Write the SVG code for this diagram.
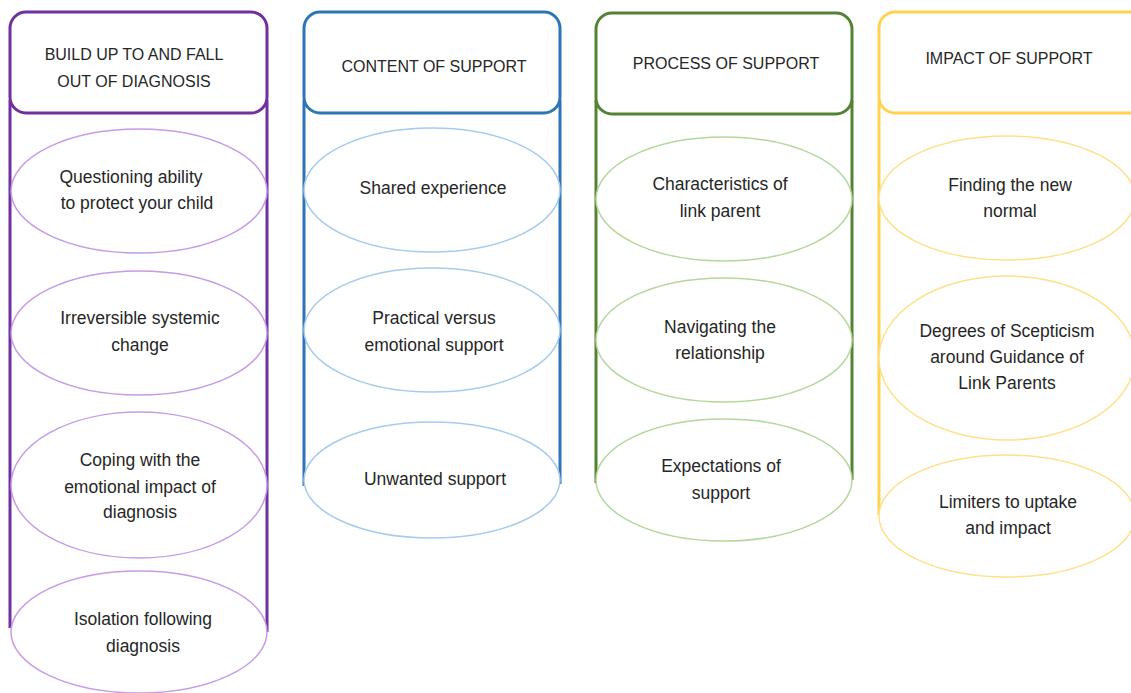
<svg xmlns="http://www.w3.org/2000/svg" width="1131" height="693" viewBox="0 0 1131 693">
<style>
.hdr{fill:#fff;stroke-width:3}
.side{stroke-width:3;fill:none}
.ell{fill:#fff;stroke-width:1.5}
text{font-family:"Liberation Sans",Arial,sans-serif;font-size:17.5px;fill:#262626;text-anchor:middle}
.h{font-size:16px}
.p{stroke:#7030A0}.pl{stroke:#C69BE8}
.b{stroke:#2E75B6}.bl{stroke:#A6CBEC}
.g{stroke:#548235}.gl{stroke:#B4D89B}
.y{stroke:#FFD34F}.yl{stroke:#FFE08A}
</style>
<rect width="1131" height="693" fill="#fff"/>
<g id="connectors">
<line class="side p" x1="10" y1="100" x2="10" y2="628"/>
<line class="side p" x1="267" y1="100" x2="267" y2="632"/>
<line class="side b" x1="304" y1="100" x2="304" y2="486"/>
<line class="side b" x1="560" y1="100" x2="560" y2="484"/>
<line class="side g" x1="596" y1="100" x2="596" y2="483"/>
<line class="side g" x1="852" y1="100" x2="852" y2="480"/>
<line class="side y" x1="879" y1="100" x2="879" y2="515"/>
</g>
<g id="h1"><rect class="hdr p" x="10" y="12" width="257" height="101" rx="16"/><text class="h" x="134" y="60">BUILD UP TO AND FALL</text><text class="h" x="134" y="87">OUT OF DIAGNOSIS</text></g>
<g id="h2"><rect class="hdr b" x="304" y="12" width="256" height="101" rx="16"/><text class="h" x="434" y="72">CONTENT OF SUPPORT</text></g>
<g id="h3"><rect class="hdr g" x="596" y="13" width="256" height="101" rx="16"/><text class="h" x="726" y="69">PROCESS OF SUPPORT</text></g>
<g id="h4"><rect class="hdr y" x="879" y="12" width="270" height="101" rx="16"/><text class="h" x="1009" y="64">IMPACT OF SUPPORT</text></g>

<g id="n1"><ellipse class="ell pl" cx="139" cy="191" rx="128" ry="62"/><text x="131" y="183">Questioning ability</text><text x="137" y="209">to protect your child</text></g>
<g id="n2"><ellipse class="ell pl" cx="139" cy="333" rx="128" ry="62"/><text x="140" y="324">Irreversible systemic</text><text x="140" y="351">change</text></g>
<g id="n3"><ellipse class="ell pl" cx="139" cy="485" rx="128" ry="73"/><text x="140" y="466">Coping with the</text><text x="140" y="493">emotional impact of</text><text x="140" y="518">diagnosis</text></g>
<g id="n4"><ellipse class="ell pl" cx="139" cy="632" rx="128" ry="61"/><text x="143" y="625">Isolation following</text><text x="143" y="652">diagnosis</text></g>

<g id="n5"><ellipse class="ell bl" cx="432" cy="190" rx="128" ry="62"/><text x="433" y="194">Shared experience</text></g>
<g id="n6"><ellipse class="ell bl" cx="432" cy="330" rx="128" ry="62"/><text x="434" y="324">Practical versus</text><text x="434" y="351">emotional support</text></g>
<g id="n7"><ellipse class="ell bl" cx="432" cy="480" rx="128" ry="58"/><text x="435" y="485">Unwanted support</text></g>

<g id="n8"><ellipse class="ell gl" cx="724" cy="199" rx="128" ry="62"/><text x="720" y="190">Characteristics of</text><text x="720" y="217">link parent</text></g>
<g id="n9"><ellipse class="ell gl" cx="724" cy="340" rx="128" ry="62"/><text x="720" y="333">Navigating the</text><text x="720" y="359">relationship</text></g>
<g id="n10"><ellipse class="ell gl" cx="724" cy="480" rx="128" ry="61"/><text x="721" y="472">Expectations of</text><text x="721" y="499">support</text></g>

<g id="n11"><ellipse class="ell yl" cx="1007" cy="198" rx="128" ry="62"/><text x="1010" y="191">Finding the new</text><text x="1010" y="217">normal</text></g>
<g id="n12"><ellipse class="ell yl" cx="1007" cy="358" rx="128" ry="82"/><text x="1007" y="337">Degrees of Scepticism</text><text x="1007" y="363">around Guidance of</text><text x="1007" y="389">Link Parents</text></g>
<g id="n13"><ellipse class="ell yl" cx="1007" cy="516" rx="128" ry="61"/><text x="1008" y="508">Limiters to uptake</text><text x="1008" y="534">and impact</text></g>
</svg>
